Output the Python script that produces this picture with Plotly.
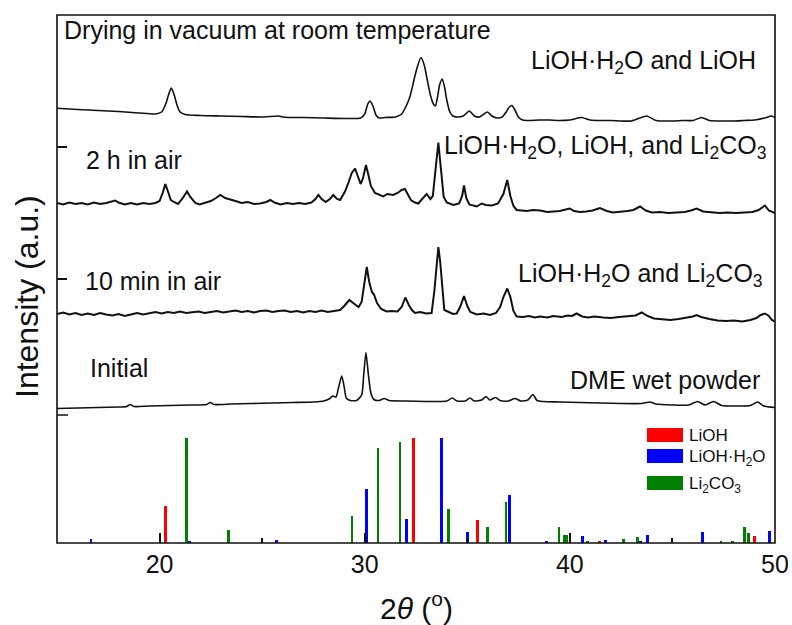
import plotly.graph_objects as go

# ---------------- XRD patterns (stacked intensity, a.u.) ----------------
vac_x = [15.0, 16.0, 17.0, 18.0, 19.0, 19.8, 20.1, 20.3, 20.45, 20.57, 20.7, 20.85, 21.0, 21.25, 22.0, 23.0, 24.0, 25.0, 25.8, 26.0,
         26.5, 27.0, 28.0, 29.0, 29.8, 30.0, 30.15, 30.26, 30.4, 30.55, 30.7, 31.0, 31.5, 31.8, 32.0, 32.2, 32.4, 32.55, 32.74, 32.9,
         33.05, 33.2, 33.35, 33.45, 33.55, 33.65, 33.78, 33.9, 34.0, 34.15, 34.3, 34.5, 34.8, 35.1, 35.35, 35.6, 35.98, 36.2, 36.45, 36.7,
         36.9, 37.05, 37.17, 37.3, 37.49, 37.7, 38.0, 38.5, 39.0, 39.5, 40.0, 40.57, 41.0, 41.5, 42.0, 43.0, 43.74, 44.2, 45.0, 45.5,
         46.0, 46.42, 46.8, 47.5, 48.0, 48.5, 49.0, 49.5, 49.84, 50.0]
vac_y = [302.7, 301.5, 300.5, 299.5, 298, 297, 299, 307, 317, 323, 317, 306, 299, 296.5, 295.5, 295, 294.5, 294, 295, 294,
         293.5, 293.5, 293, 292.5, 293, 297, 307, 310, 305, 296, 293, 293.5, 294, 297, 304, 314, 331, 343, 353.5, 346,
         331, 316, 307, 305, 314, 326, 332, 323, 311, 299, 295, 294, 295, 300, 295, 294, 299, 295, 293, 294,
         299, 304, 305.5, 302, 294, 291, 290.5, 291, 291, 290.5, 291, 293.5, 291, 290.5, 290.5, 290, 295, 290.5, 290, 290.5,
         290.5, 293.5, 290.5, 290, 290, 290.5, 291, 293, 295, 293.5]

air2h_x = [15.0, 15.3, 15.6, 15.9, 16.2, 16.5, 16.8, 17.1, 17.4, 17.7, 17.84, 18.0, 18.3, 18.6, 18.9, 19.2, 19.5, 19.8, 20.0, 20.15,
           20.28, 20.4, 20.55, 20.7, 20.9, 21.1, 21.34, 21.5, 21.74, 21.95, 22.2, 22.5, 22.75, 22.96, 23.2, 23.4, 23.7, 24.0, 24.3, 24.6,
           24.9, 25.2, 25.4, 25.6, 25.9, 26.2, 26.5, 26.8, 27.1, 27.4, 27.6, 27.74, 27.9, 28.1, 28.3, 28.47, 28.65, 28.8, 29.04, 29.2,
           29.37, 29.53, 29.67, 29.8, 29.92, 30.06, 30.18, 30.3, 30.5, 30.7, 30.9, 31.1, 31.39, 31.6, 31.8, 31.96, 32.1, 32.25, 32.45, 32.61,
           32.8, 33.02, 33.2, 33.32, 33.45, 33.59, 33.72, 33.85, 34.0, 34.32, 34.6, 34.75, 34.84, 34.95, 35.1, 35.3, 35.46, 35.7, 35.9, 36.2,
           36.5, 36.76, 36.95, 37.1, 37.25, 37.41, 37.6, 37.9, 38.2, 38.55, 38.9, 39.2, 39.5, 39.8, 40.0, 40.2, 40.5, 40.8, 41.1, 41.47,
           41.8, 42.1, 42.5, 42.8, 43.1, 43.42, 43.7, 44.0, 44.4, 44.8, 45.2, 45.6, 45.9, 46.18, 46.5, 46.9, 47.3, 47.7, 48.1, 48.5,
           48.9, 49.2, 49.51, 49.7, 50.0]
air2h_y = [208, 206.5, 208.5, 207, 208, 206.5, 208.5, 207, 208, 210, 210.5, 208.5, 206.5, 208, 206.5, 208, 207, 208, 210, 218,
           227, 220, 211, 209, 207, 212, 219.5, 214, 208, 206.5, 208, 210, 213, 216, 213, 211.5, 210, 208, 209, 207,
           207.5, 209, 211, 208.5, 206.5, 208, 207, 208, 207, 208.5, 212, 216, 212, 209, 212, 216, 212, 211, 219.5, 228,
           238, 242.5, 235, 227, 233, 246, 236, 225, 218, 216, 214.5, 217, 216, 218, 221, 222, 216, 211, 208.5, 207.5,
           212, 217, 212, 215, 241, 268.5, 241, 214, 208.5, 206, 207.5, 215, 225.5, 213, 206.5, 205, 204.5, 207.5, 206, 205.5,
           207.5, 217, 231, 215, 205, 201, 200.5, 200, 201, 200.5, 199, 199.5, 200, 201.5, 202.5, 200, 199, 199.5, 200.5, 203,
           200, 198.5, 199, 200, 201, 204.5, 200.5, 198.5, 199, 198, 198.5, 199, 200.5, 202.5, 199.5, 198.5, 198, 198.5, 198, 198.5,
           199, 201, 205.5, 200.5, 198]

air10_x = [15.0, 15.3, 15.6, 15.9, 16.2, 16.5, 16.8, 17.1, 17.4, 17.7, 18.0, 18.3, 18.6, 18.9, 19.2, 19.5, 19.8, 20.1, 20.4, 20.7,
           21.0, 21.3, 21.6, 21.9, 22.2, 22.5, 22.8, 23.1, 23.4, 23.7, 24.0, 24.3, 24.6, 24.9, 25.2, 25.5, 25.8, 26.1, 26.4, 26.7,
           27.0, 27.3, 27.6, 27.9, 28.2, 28.5, 28.8, 29.0, 29.25, 29.5, 29.7, 29.85, 29.97, 30.1, 30.22, 30.35, 30.45, 30.6, 30.8, 31.07,
           31.3, 31.6, 31.8, 31.98, 32.15, 32.3, 32.45, 32.7, 33.0, 33.26, 33.4, 33.5, 33.59, 33.68, 33.78, 33.88, 34.1, 34.3, 34.48, 34.65,
           34.84, 35.0, 35.15, 35.46, 35.8, 36.11, 36.4, 36.6, 36.76, 36.95, 37.1, 37.25, 37.41, 37.7, 38.0, 38.3, 38.55, 38.9, 39.2, 39.6,
           39.9, 40.1, 40.33, 40.6, 40.9, 41.2, 41.63, 42.0, 42.4, 42.8, 43.2, 43.5, 43.8, 44.1, 44.5, 44.9, 45.3, 45.7, 46.0, 46.18,
           46.4, 46.8, 47.2, 47.6, 48.0, 48.4, 48.8, 49.1, 49.3, 49.51, 49.7, 49.85, 50.0]
air10_y = [97, 98.5, 96.5, 98, 96, 97.5, 96, 98, 96.5, 95.5, 97, 95, 96.5, 98, 96.5, 98, 99, 97.5, 99, 98,
           99.5, 98, 99, 99.5, 98, 99, 100, 98.5, 99.5, 100.5, 99, 100, 98.5, 100, 100.5, 99, 100, 100.5, 99, 100,
           98.5, 100, 99, 100.5, 99, 100, 101, 105, 111, 107, 104, 109, 126, 144, 129, 119, 116.5, 108, 102, 99.5,
           100, 99.5, 104, 113.5, 106, 101, 98, 99, 97.5, 98, 121, 149, 164, 149, 121, 101, 99, 97, 97.5, 104,
           115, 105, 99, 96.5, 97.5, 96, 98, 104, 114, 122.5, 114, 100, 94.5, 94, 95, 93.5, 94.5, 93.5, 95, 94,
           95.5, 95, 97.5, 94.5, 93.5, 94.5, 93.5, 93, 94, 94.5, 95.5, 98.5, 95, 92.5, 91.5, 91, 92, 93, 94.5, 96,
           94, 92, 90.5, 90, 90.5, 89.5, 91, 93, 96, 97.5, 95, 91, 89.5]

init_x = [15.0, 16.0, 17.0, 18.0, 18.4, 18.57, 18.75, 19.5, 20.5, 21.5, 22.3, 22.47, 22.65, 23.5, 24.5, 25.5, 26.5, 27.5, 28.0, 28.3,
          28.44, 28.6, 28.72, 28.88, 29.0, 29.1, 29.3, 29.6, 29.85, 29.95, 30.06, 30.18, 30.3, 30.45, 30.7, 30.95, 31.2, 32.0, 33.0, 33.5,
          34.0, 34.27, 34.5, 34.9, 35.13, 35.35, 35.7, 35.91, 36.1, 36.38, 36.6, 37.0, 37.33, 37.6, 37.95, 38.2, 38.4, 38.7, 39.5, 40.5,
          41.5, 42.5, 43.5, 43.9, 44.2, 45.0, 45.8, 46.22, 46.6, 47.0, 47.4, 48.2, 48.8, 49.15, 49.45, 50.0]
init_y = [2.5, 3, 3.5, 4, 4.5, 6.5, 4.5, 5, 5.5, 6, 6.5, 8.5, 6.5, 7, 7.5, 8, 8.5, 9, 10, 12.5,
          15, 14, 23, 35, 24, 13, 10.5, 10.5, 16, 36, 58.5, 36, 18, 11.5, 10.5, 12.5, 10.5, 10, 9.5, 9.5,
          10, 13, 10, 10, 13, 10, 11, 14.5, 11, 13.5, 10.5, 10, 12.5, 10, 11, 16.5, 10.5, 9.5, 9, 8.5,
          8, 7.5, 7.5, 9, 7, 6, 6, 9.5, 6, 9.5, 5.5, 5, 5.5, 9, 5, 3.5]

# ---------------- Reference patterns (relative intensity) ----------------
lioh_x = [20.3, 32.37, 35.5, 41.44, 48.99]
lioh_y = [34.7, 100, 22.1, 1.6, 6.6]

liohh2o_x = [16.66, 21.45, 25.72, 30.08, 32.03, 33.75, 35.02, 37.05, 38.87, 40.61, 41.75, 43.45, 43.79, 46.48, 49.72]
liohh2o_y = [3.8, 1.6, 2.8, 51.1, 22.7, 100, 10.4, 46, 1.0, 6.9, 2.8, 1.0, 7.9, 10.4, 11]

li2co3_x = [21.3, 23.37, 29.38, 30.65, 31.72, 34.09, 35.98, 36.89, 39.47, 39.74, 39.86, 40.85, 42.61, 43.31, 47.37, 47.94, 48.5, 48.7]
li2co3_y = [100, 12.6, 25.9, 90.5, 95.6, 32.2, 15.5, 38.5, 15.1, 7.9, 7.9, 1.0, 3.8, 6.0, 1.0, 1.6, 14.8, 9.5]

x_ticks = [20, 30, 40, 50]
x_minor = [25, 35, 45]

FONT = "Liberation Sans, Arial, sans-serif"
INK = "#111111"

fig = go.Figure()

# stacked patterns on the upper panel
for xs, ys, w, shape in [(vac_x, vac_y, 1.6, "spline"), (air2h_x, air2h_y, 2.0, "linear"),
                         (air10_x, air10_y, 2.0, "linear"), (init_x, init_y, 1.6, "spline")]:
    fig.add_trace(go.Scatter(x=xs, y=ys, mode="lines", xaxis="x2", yaxis="y2",
                             line=dict(color=INK, width=w, shape=shape, smoothing=0.6),
                             showlegend=False, hoverinfo="skip"))

# stick patterns on the lower panel
for xs, ys, col, name in [(li2co3_x, li2co3_y, "#008000", "Li2CO3"),
                          (liohh2o_x, liohh2o_y, "#0000FF", "LiOH·H2O"),
                          (lioh_x, lioh_y, "#FF0000", "LiOH")]:
    fig.add_trace(go.Bar(x=xs, y=ys, width=0.14, marker=dict(color=col, line=dict(width=0)),
                         name=name, showlegend=False, xaxis="x", yaxis="y"))

fig.update_layout(
    width=792, height=625, autosize=False,
    margin=dict(l=57, r=17, t=15, b=82, pad=0, autoexpand=False),
    paper_bgcolor="white", plot_bgcolor="white",
    barmode="overlay", bargap=0,
    font=dict(family=FONT, color=INK),
    xaxis=dict(domain=[0, 1], range=[15, 50], anchor="y", showgrid=False, zeroline=False,
               automargin=False,
               showline=False, ticks="inside", ticklen=10, tickwidth=1.5, tickcolor=INK,
               tickmode="array", tickvals=x_ticks, ticktext=[str(v) for v in x_ticks],
               tickfont=dict(size=25, family=FONT, color=INK), ticklabelstandoff=4,
               minor=dict(tickmode="array", tickvals=x_minor, ticks="inside", ticklen=5,
                          tickwidth=1.5, tickcolor=INK)),
    yaxis=dict(domain=[0, 0.25], range=[0, 125.4], showgrid=False, zeroline=False,
               automargin=False, showline=False, showticklabels=False, ticks=""),
    xaxis2=dict(domain=[0, 1], range=[15, 50], anchor="y2", matches="x", showgrid=False,
                automargin=False, zeroline=False, showline=False, showticklabels=False, ticks=""),
    yaxis2=dict(domain=[0.25, 1], range=[0, 396], anchor="x2", showgrid=False, zeroline=False,
                automargin=False, showline=False, showticklabels=False, ticks="inside", ticklen=10,
                tickwidth=1.5, tickcolor=INK, tickmode="linear", tick0=0, dtick=132),
)

shapes = [
    dict(type="rect", xref="paper", yref="paper", x0=0, x1=1, y0=0, y1=1,
         line=dict(color=INK, width=1.6), fillcolor="rgba(0,0,0,0)", layer="above"),
    dict(type="line", xref="paper", yref="paper", x0=0, x1=11 / 718, y0=(543 - 415) / 528,
         y1=(543 - 415) / 528, line=dict(color=INK, width=1.5)),
]
# legend swatches
for (ya, yb, col) in [(428, 442, "#FF0000"), (449, 463, "#0000FF"), (476, 490, "#008000")]:
    shapes.append(dict(type="rect", xref="paper", yref="paper",
                       x0=(647 - 57) / 718, x1=(683 - 57) / 718,
                       y0=(543 - yb) / 528, y1=(543 - ya) / 528,
                       line=dict(width=0), fillcolor=col))
fig.update_layout(shapes=shapes)

def px(xp):
    return (xp - 57) / 718

def py(yp):
    return (543 - yp) / 528

ann = []
def label(text, x, y, xanchor, size=25, angle=0):
    ann.append(dict(text=text, x=px(x), y=py(y), xref="paper", yref="paper", xanchor=xanchor,
                    yanchor="middle", showarrow=False, textangle=angle,
                    font=dict(size=size, family=FONT, color=INK)))

label("Drying in vacuum at room temperature", 62, 30, "left")
label("2 h in air", 84, 160, "left")
label("10 min in air", 83, 281, "left")
label("Initial", 88, 368, "left")
label("LiOH·H<sub>2</sub>O and LiOH", 758, 62, "right")
label("LiOH·H<sub>2</sub>O, LiOH, and Li<sub>2</sub>CO<sub>3</sub>", 768, 147, "right")
label("LiOH·H<sub>2</sub>O and Li<sub>2</sub>CO<sub>3</sub>", 765, 275, "right")
label("DME wet powder", 762, 380, "right")
label("LiOH", 687, 435, "left", size=17)
label("LiOH·H<sub>2</sub>O", 687, 458, "left", size=17)
label("Li<sub>2</sub>CO<sub>3</sub>", 687, 485, "left", size=17)
label("Intensity (a.u.)", 27, 297, "center", size=32, angle=-90)
label("2<i>θ</i> (<sup>o</sup>)", 416, 606, "center", size=30)
fig.update_layout(annotations=ann)

fig.write_html("out.html")
